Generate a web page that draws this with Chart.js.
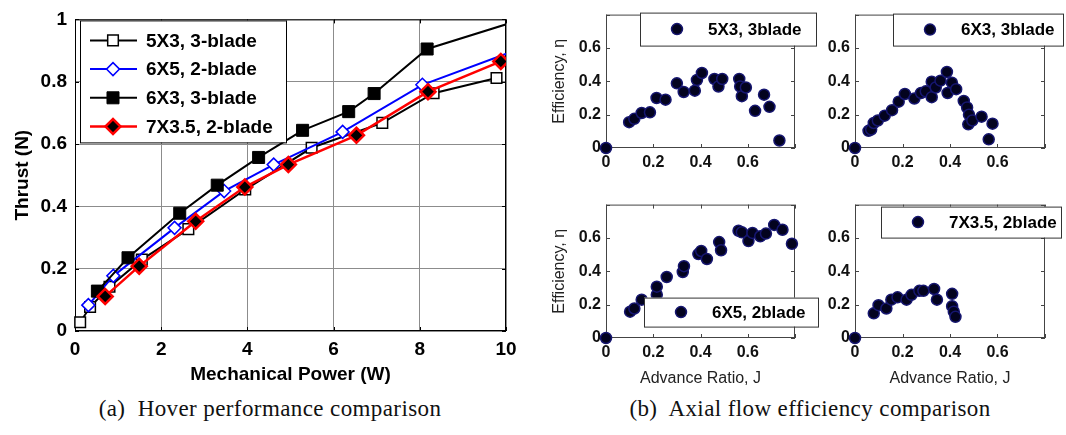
<!DOCTYPE html>
<html>
<head>
<meta charset="utf-8">
<script src="https://cdn.jsdelivr.net/npm/chart.js@4.4.0/dist/chart.umd.min.js"></script>
<style>
  body { margin: 0; background: #fff; width: 1066px; height: 435px; position: relative; overflow: hidden; }
  .box { position: absolute; }
  .cap { position: absolute; top: 395px; font-family: "Liberation Serif", serif; font-size: 23px; letter-spacing: 0.4px; color: #111; white-space: pre; text-align: center; line-height: 28px; }
</style>
</head>
<body>
<div class="box" style="left:0;top:0;width:540px;height:395px"><canvas id="hover"></canvas></div>
<div class="box" style="left:540px;top:0;width:280px;height:190px"><canvas id="eff1"></canvas></div>
<div class="box" style="left:800px;top:0;width:266px;height:190px"><canvas id="eff2"></canvas></div>
<div class="box" style="left:540px;top:190px;width:280px;height:205px"><canvas id="eff3"></canvas></div>
<div class="box" style="left:800px;top:190px;width:266px;height:205px"><canvas id="eff4"></canvas></div>
<div class="cap" style="left:0;width:540px">(a)  Hover performance comparison</div>
<div class="cap" style="left:550px;width:520px">(b)  Axial flow efficiency comparison</div>
<script>
// hover test: mechanical power (W) vs thrust (N)
const power5x3 = [0.12, 0.35, 0.80, 1.55, 2.63, 3.95, 5.49, 7.13, 8.32, 9.78];
const thrust5x3 = [0.028, 0.077, 0.142, 0.229, 0.327, 0.454, 0.588, 0.668, 0.763, 0.812];
const power6x5 = [0.31, 0.89, 2.31, 3.46, 4.61, 6.21, 8.06, 10.5];
const thrust6x5 = [0.083, 0.177, 0.331, 0.449, 0.534, 0.639, 0.790, 0.915];
const power6x3 = [0.52, 1.23, 2.43, 3.30, 4.26, 5.28, 6.35, 6.94, 8.17, 10.6];
const thrust6x3 = [0.128, 0.235, 0.378, 0.468, 0.557, 0.644, 0.704, 0.762, 0.905, 1.01];
const power7x35 = [0.70, 1.49, 2.80, 3.94, 4.95, 6.53, 8.19, 9.88];
const thrust7x35 = [0.111, 0.208, 0.352, 0.462, 0.534, 0.628, 0.768, 0.865];

const powerTicks = [0, 2, 4, 6, 8, 10];
const thrustTicks = [0, 0.2, 0.4, 0.6, 0.8, 1];

// axial flow: advance ratio J vs efficiency
const j5x3 = [0, 0.098, 0.12, 0.151, 0.186, 0.214, 0.252, 0.30, 0.329, 0.376, 0.385, 0.406, 0.459, 0.476, 0.492, 0.564, 0.568, 0.575, 0.592, 0.631, 0.669, 0.692, 0.734];
const eta5x3 = [0, 0.155, 0.175, 0.21, 0.214, 0.30, 0.29, 0.388, 0.336, 0.344, 0.408, 0.45, 0.414, 0.369, 0.414, 0.414, 0.369, 0.311, 0.363, 0.223, 0.32, 0.247, 0.045];
const j6x3 = [0, 0.057, 0.068, 0.079, 0.096, 0.125, 0.156, 0.184, 0.21, 0.25, 0.278, 0.298, 0.323, 0.323, 0.34, 0.36, 0.387, 0.39, 0.408, 0.426, 0.458, 0.472, 0.48, 0.477, 0.494, 0.533, 0.563, 0.579];
const eta6x3 = [0, 0.103, 0.111, 0.15, 0.165, 0.194, 0.227, 0.278, 0.324, 0.297, 0.33, 0.34, 0.305, 0.398, 0.363, 0.404, 0.456, 0.33, 0.392, 0.353, 0.282, 0.243, 0.2, 0.142, 0.165, 0.188, 0.052, 0.146];
const j6x5 = [0, 0.102, 0.12, 0.151, 0.215, 0.215, 0.257, 0.325, 0.33, 0.391, 0.403, 0.427, 0.479, 0.487, 0.561, 0.575, 0.603, 0.62, 0.653, 0.677, 0.712, 0.747, 0.787];
const eta6x5 = [0, 0.158, 0.177, 0.23, 0.26, 0.308, 0.366, 0.396, 0.431, 0.503, 0.522, 0.474, 0.575, 0.526, 0.643, 0.634, 0.581, 0.63, 0.61, 0.626, 0.678, 0.649, 0.565];
const j7x35 = [0, 0.079, 0.099, 0.132, 0.153, 0.179, 0.217, 0.238, 0.271, 0.288, 0.333, 0.345, 0.409, 0.409, 0.416, 0.423];
const eta7x35 = [0, 0.148, 0.197, 0.177, 0.23, 0.244, 0.23, 0.259, 0.283, 0.283, 0.294, 0.23, 0.265, 0.191, 0.158, 0.127];

const effTicks = [0, 0.2, 0.4, 0.6, 0.8];

const SANS = '"Liberation Sans", Arial, sans-serif';

function pts(xs, ys) {
    return xs.map((x, i) => ({ x: x, y: ys[i] }));
}

// matlab style numbers: 1 not 1.0
function fmt(v) {
    return String(Math.round(v * 10) / 10);
}

function drawMarker(ctx, style, x, y, r, fill, stroke, lw) {
    ctx.beginPath();
    if (style === 'rect') {
        const s = r * Math.SQRT1_2;
        ctx.rect(x - s, y - s, 2 * s, 2 * s);
    } else if (style === 'circle') {
        ctx.arc(x, y, r, 0, Math.PI * 2);
    } else {
        ctx.moveTo(x - r, y);
        ctx.lineTo(x, y - r);
        ctx.lineTo(x + r, y);
        ctx.lineTo(x, y + r);
        ctx.closePath();
    }
    ctx.fillStyle = fill;
    ctx.fill();
    ctx.lineWidth = lw;
    ctx.strokeStyle = stroke;
    ctx.stroke();
}

// box round the axes + small inward ticks
const axesBox = {
    id: 'axesBox',
    beforeDatasetsDraw(chart, args, opts) {
        const { ctx, chartArea: a, scales } = chart;
        ctx.save();
        ctx.strokeStyle = opts.color || '#000';
        ctx.lineWidth = 1;
        ctx.strokeRect(a.left + 0.5, a.top + 0.5, a.right - a.left - 1, a.bottom - a.top - 1);
        const len = 4;
        ctx.beginPath();
        scales.x.ticks.forEach(t => {
            const px = Math.round(scales.x.getPixelForValue(t.value)) + 0.5;
            ctx.moveTo(px, a.bottom); ctx.lineTo(px, a.bottom - len);
            ctx.moveTo(px, a.top); ctx.lineTo(px, a.top + len);
        });
        scales.y.ticks.forEach(t => {
            const py = Math.round(scales.y.getPixelForValue(t.value)) + 0.5;
            ctx.moveTo(a.left, py); ctx.lineTo(a.left + len, py);
            ctx.moveTo(a.right, py); ctx.lineTo(a.right - len, py);
        });
        ctx.stroke();
        ctx.restore();
    }
};

const hoverLegend = {
    id: 'hoverLegend',
    afterDatasetsDraw(chart) {
        const { ctx, chartArea: a } = chart;
        const x0 = a.left + 5, y0 = a.top + 1, w = 206, h = 122;
        ctx.save();
        ctx.fillStyle = '#fff';
        ctx.fillRect(x0, y0, w, h);
        ctx.strokeStyle = '#000';
        ctx.lineWidth = 1;
        ctx.strokeRect(x0 + 0.5, y0 + 0.5, w, h);
        chart.data.datasets.forEach((ds, i) => {
            const y = y0 + 20 + i * 28.7;
            ctx.beginPath();
            ctx.moveTo(x0 + 10, y);
            ctx.lineTo(x0 + 57, y);
            ctx.strokeStyle = ds.borderColor;
            ctx.lineWidth = ds.borderWidth;
            ctx.stroke();
            drawMarker(ctx, ds.pointStyle, x0 + 33, y, ds.pointRadius, ds.pointBackgroundColor, ds.pointBorderColor, ds.pointBorderWidth);
            ctx.fillStyle = '#000';
            ctx.font = 'bold 19px ' + SANS;
            ctx.textBaseline = 'middle';
            ctx.textAlign = 'left';
            ctx.fillText(ds.label, x0 + 66, y + 1);
        });
        ctx.restore();
    }
};

const effLegend = {
    id: 'effLegend',
    afterDatasetsDraw(chart, args, o) {
        const { ctx, chartArea: a } = chart;
        const x0 = a.left + o.dx, y0 = a.top + o.dy;
        const ds = chart.data.datasets[0];
        ctx.save();
        ctx.fillStyle = '#fff';
        ctx.fillRect(x0, y0, o.w, o.h);
        ctx.strokeStyle = '#333';
        ctx.lineWidth = 1;
        ctx.strokeRect(x0 + 0.5, y0 + 0.5, o.w, o.h);
        drawMarker(ctx, 'circle', x0 + 37, y0 + o.h / 2, ds.pointRadius, ds.backgroundColor, ds.borderColor, ds.borderWidth);
        ctx.fillStyle = '#000';
        ctx.font = 'bold 17px ' + SANS;
        ctx.textBaseline = 'middle';
        ctx.textAlign = 'left';
        ctx.fillText(ds.label, x0 + 68, y0 + o.h / 2 + 1);
        ctx.restore();
    }
};

const edgeClip = { left: 10, top: 10, right: 0, bottom: 10 };

new Chart(document.getElementById('hover'), {
    type: 'line',
    data: {
        datasets: [
            {
                label: '5X3, 3-blade',
                data: pts(power5x3, thrust5x3),
                borderColor: '#000', borderWidth: 2,
                pointStyle: 'rect', pointRadius: 7.5,
                pointBackgroundColor: '#fff', pointBorderColor: '#000', pointBorderWidth: 1.5,
                clip: edgeClip, order: 3
            },
            {
                label: '6X5, 2-blade',
                data: pts(power6x5, thrust6x5),
                borderColor: '#0000ff', borderWidth: 2,
                pointStyle: 'rectRot', pointRadius: 6.5,
                pointBackgroundColor: '#fff', pointBorderColor: '#0000ff', pointBorderWidth: 1.5,
                clip: edgeClip, order: 2
            },
            {
                label: '6X3, 3-blade',
                data: pts(power6x3, thrust6x3),
                borderColor: '#000', borderWidth: 2,
                pointStyle: 'rect', pointRadius: 8.5,
                pointBackgroundColor: '#000', pointBorderColor: '#000', pointBorderWidth: 1,
                clip: edgeClip, order: 1
            },
            {
                label: '7X3.5, 2-blade',
                data: pts(power7x35, thrust7x35),
                borderColor: '#ff0000', borderWidth: 2.5,
                pointStyle: 'rectRot', pointRadius: 7.5,
                pointBackgroundColor: '#000', pointBorderColor: '#ff0000', pointBorderWidth: 2.5,
                clip: edgeClip, order: 0
            }
        ]
    },
    options: {
        responsive: true,
        maintainAspectRatio: false,
        animation: false,
        layout: { padding: { top: 15, right: 34, left: 0, bottom: 0 } },
        plugins: {
            legend: { display: false },
            tooltip: { enabled: false },
            axesBox: { color: '#000' }
        },
        scales: {
            x: {
                type: 'linear',
                min: 0, max: 10,
                afterBuildTicks: s => { s.ticks = powerTicks.map(v => ({ value: v })); },
                ticks: { color: '#000', font: { family: SANS, size: 19, weight: 'bold' }, padding: 7, maxRotation: 0, autoSkip: false },
                grid: { color: '#8c8c8c', drawTicks: false },
                border: { display: false },
                title: { display: true, text: 'Mechanical Power (W)', color: '#000', font: { family: SANS, size: 19, weight: 'bold' }, padding: { top: 0, bottom: 9 } },
                afterFit: s => { s.height = 64; }
            },
            y: {
                min: 0, max: 1,
                afterBuildTicks: s => { s.ticks = thrustTicks.map(v => ({ value: v })); },
                ticks: { color: '#000', font: { family: SANS, size: 19, weight: 'bold' }, padding: 8, autoSkip: false, callback: fmt },
                grid: { color: '#8c8c8c', drawTicks: false },
                border: { display: false },
                title: { display: true, text: 'Thrust (N)', color: '#000', font: { family: SANS, size: 19, weight: 'bold' }, padding: { top: 11, bottom: 0 } },
                afterFit: s => { s.width = 75; }
            }
        }
    },
    plugins: [axesBox, hoverLegend]
});

function effChart(id, label, js, etas, cfg) {
    return new Chart(document.getElementById(id), {
        type: 'scatter',
        data: {
            datasets: [{
                label: label,
                data: pts(js, etas),
                pointRadius: 5.5,
                backgroundColor: '#03031f',
                borderColor: '#161670',
                borderWidth: 1.5,
                clip: false
            }]
        },
        options: {
            responsive: true,
            maintainAspectRatio: false,
            animation: false,
            layout: { padding: { top: cfg.padTop, right: cfg.padRight, left: 0, bottom: 0 } },
            plugins: {
                legend: { display: false },
                tooltip: { enabled: false },
                axesBox: { color: '#444' },
                effLegend: cfg.box
            },
            scales: {
                x: {
                    type: 'linear',
                    min: 0, max: 0.8,
                    afterBuildTicks: s => { s.ticks = effTicks.map(v => ({ value: v })); },
                    ticks: {
                        color: '#111', font: { family: SANS, size: 16, weight: 'bold' }, padding: 5, maxRotation: 0, autoSkip: false,
                        callback: v => v > 0.75 ? '' : fmt(v)
                    },
                    grid: { display: false, drawTicks: false },
                    border: { display: false },
                    title: { display: cfg.xTitle, text: 'Advance Ratio, J', color: '#222', font: { family: SANS, size: 16 }, padding: { top: 0, bottom: 7 } },
                    afterFit: s => { s.height = cfg.xHeight; }
                },
                y: {
                    min: 0, max: 0.8,
                    afterBuildTicks: s => { s.ticks = effTicks.map(v => ({ value: v })); },
                    ticks: {
                        color: '#111', font: { family: SANS, size: 16, weight: 'bold' }, padding: 5, autoSkip: false,
                        callback: v => v > 0.75 ? '' : fmt(v)
                    },
                    grid: { display: false, drawTicks: false },
                    border: { display: false },
                    title: { display: cfg.yTitle, text: 'Efficiency, η', color: '#222', font: { family: SANS, size: 16 }, padding: { top: 10, bottom: 0 } },
                    afterFit: s => { s.width = cfg.yWidth; }
                }
            }
        },
        plugins: [axesBox, effLegend]
    });
}

effChart('eff1', '5X3, 3blade', j5x3, eta5x3, {
    padTop: 12, padRight: 25, xHeight: 42, yWidth: 66, xTitle: false, yTitle: true,
    box: { dx: 34, dy: -2, w: 176, h: 33 }
});
effChart('eff2', '6X3, 3blade', j6x3, eta6x3, {
    padTop: 12, padRight: 21, xHeight: 42, yWidth: 55, xTitle: false, yTitle: false,
    box: { dx: 38, dy: -1, w: 170, h: 32 }
});
effChart('eff3', '6X5, 2blade', j6x5, eta6x5, {
    padTop: 11, padRight: 25, xHeight: 57, yWidth: 66, xTitle: true, yTitle: true,
    box: { dx: 38, dy: 93, w: 174, h: 29 }
});
effChart('eff4', '7X3.5, 2blade', j7x35, eta7x35, {
    padTop: 11, padRight: 21, xHeight: 57, yWidth: 55, xTitle: true, yTitle: false,
    box: { dx: 26, dy: 2, w: 180, h: 31 }
});
</script>
</body>
</html>
